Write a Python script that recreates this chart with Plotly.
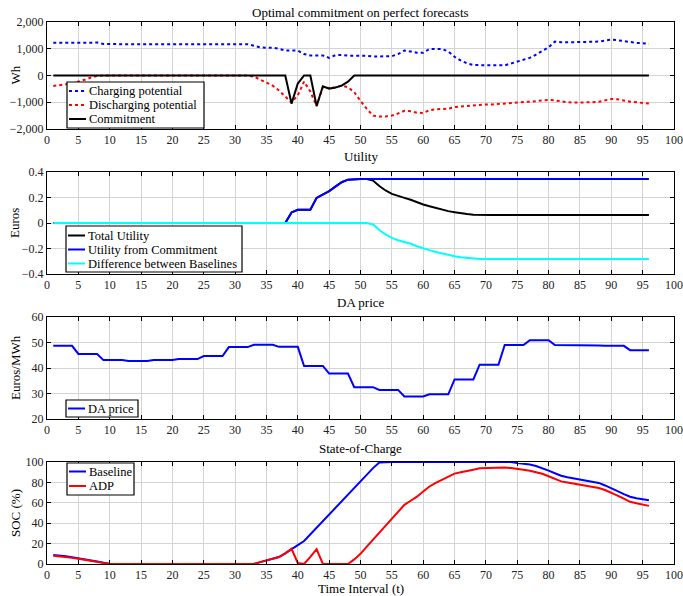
import plotly.graph_objects as go

t = list(range(1, 97))

charging = [1220, 1220, 1210, 1210, 1220, 1220, 1220, 1230, 1180, 1170, 1170, 1170, 1170, 1170, 1170, 1170,
            1170, 1170, 1170, 1170, 1170, 1170, 1170, 1170, 1170, 1170, 1170, 1170, 1170, 1170, 1170, 1170,
            1110, 1050, 1040, 1040, 1000, 935, 935, 935, 800, 750, 750, 750, 660, 760, 770, 740,
            740, 740, 740, 710, 710, 715, 720, 800, 935, 900, 850, 850, 990, 990, 990, 900,
            700, 560, 450, 390, 390, 390, 390, 370, 380, 450, 520, 580, 660, 780, 920, 1060,
            1270, 1240, 1240, 1240, 1240, 1250, 1260, 1270, 1300, 1340, 1320, 1280, 1240, 1220, 1210, 1190]

discharging = [-390, -370, -330, -290, -230, -160, -80, -10, 0, 0, 0, 0, 0, 0, 0, 0,
               0, 0, 0, 0, 0, 0, 0, 0, 0, 0, 0, 0, 0, 0, 0, 0,
               -40, -150, -270, -380, -560, -780, -1010, -740, -230, -600, -1140, -430, -470, -450, -380, -440,
               -620, -950, -1250, -1500, -1530, -1530, -1500, -1420, -1320, -1340, -1390, -1400, -1300, -1260, -1260, -1240,
               -1180, -1160, -1140, -1120, -1090, -1080, -1080, -1070, -1050, -1030, -1010, -1000, -980, -960, -930, -910,
               -930, -970, -1000, -1010, -1010, -1010, -1000, -980, -920, -880, -890, -940, -980, -1000, -1020, -1050]

commitment = [0] * 38 + [-1050, -300, 0, 0, -1140, -400, -490, -450, -380, -230] + [0] * 48

util_commit = [0] * 38 + [0.083, 0.104, 0.104, 0.104, 0.197, 0.223, 0.25, 0.285, 0.32, 0.34] + [0.345] * 48

util_diff = [0] * 51 + [-0.012, -0.055, -0.09, -0.117, -0.135, -0.148, -0.163, -0.182, -0.2, -0.213, -0.227,
                        -0.24, -0.252, -0.26, -0.269, -0.275, -0.281] + [-0.283] * 28

util_total = [0] * 38 + [0.083, 0.104, 0.104, 0.104, 0.197, 0.223, 0.25, 0.285, 0.32, 0.34, 0.345, 0.345, 0.345] + \
             [0.333, 0.29, 0.255, 0.228, 0.21, 0.197, 0.182, 0.163, 0.145, 0.132, 0.118, 0.105, 0.093,
              0.085, 0.076, 0.07, 0.064] + [0.062] * 28

da_price = [48.7, 48.7, 48.7, 48.7, 45.5, 45.5, 45.5, 45.5, 43.1, 43.1, 43.1, 43.1, 42.7, 42.7, 42.7, 42.7,
            43.1, 43.1, 43.1, 43.1, 43.5, 43.5, 43.5, 43.5, 44.7, 44.7, 44.7, 44.7, 48.2, 48.2, 48.2, 48.2,
            49.1, 49.1, 49.1, 49.1, 48.3, 48.3, 48.3, 48.3, 40.8, 40.8, 40.8, 40.8, 37.8, 37.8, 37.8, 37.8,
            32.5, 32.5, 32.5, 32.5, 31.4, 31.4, 31.4, 31.4, 28.8, 28.8, 28.8, 28.8, 29.7, 29.7, 29.7, 29.7,
            35.5, 35.5, 35.5, 35.5, 41.3, 41.3, 41.3, 41.3, 49.0, 49.0, 49.0, 49.0, 50.9, 50.9, 50.9, 50.9,
            49.0, 49.0, 49.0, 49.0, 48.8, 48.8, 48.8, 48.8, 48.7, 48.7, 48.7, 48.7, 47.0, 47.0, 47.0, 47.0]

soc_baseline = [8.8, 8.5, 7.5, 6.7, 5.8, 4.7, 3.6, 2.5, 1.3, 0.2] + [0] * 23 + \
               [1.8, 3.6, 5.2, 6.8, 10.5, 14.9, 18.5, 22.5, 29, 36, 42, 48.5, 55.5, 62, 68, 74.5, 80.5, 87.5, 94, 99.5] + \
               [100] * 21 + \
               [99, 98.5, 97.5, 96, 94, 91.5, 89, 86.5, 85, 84, 83, 82, 81, 79.5, 77, 74.5, 71.5, 68.5, 66, 64.5, 63.5, 62.5]

soc_adp = [8.1, 7.6, 6.8, 6.0, 5.2, 4.2, 3.2, 2.2, 1.1, 0.1] + [0] * 23 + \
          [1.8, 3.6, 5.2, 6.8, 10.5, 14.9, 1, 0, 7, 14.5, 0, 0, 0, 0, 0,
           4.5, 10, 17, 23.7, 30.5, 37.5, 44.8, 51.5, 58, 62, 66, 71, 76, 79.5, 82.8, 86,
           88.6, 90, 91, 92.5, 93.8, 94, 94.2, 94.3, 94.5, 94, 93.5, 92.5, 91.5, 90.3, 88.5, 86,
           83.5, 81, 79.8, 78.8, 78, 77, 75.8, 74.5, 72.5, 70, 67, 64, 61, 59.5, 58, 57]

panel_titles = ["Optimal commitment on perfect forecasts", "Utility", "DA price", "State-of-Charge"]
y_titles = ["Wh", "Euros", "Euros/MWh", "SOC (%)"]
x_title = "Time Interval (t)"

FONT = "Liberation Serif, Times New Roman, serif"
BLUE, RED, BLACK, CYAN = "#0000ff", "#ff0000", "#000000", "#00ffff"

# (panel, name, data, color, dash)
series = [
    (1, "Charging potential", charging, BLUE, "dot"),
    (1, "Discharging potential", discharging, RED, "dot"),
    (1, "Commitment", commitment, BLACK, "solid"),
    (2, "Total Utility", util_total, BLACK, "solid"),
    (2, "Utility from Commitment", util_commit, BLUE, "solid"),
    (2, "Difference between Baselines", util_diff, CYAN, "solid"),
    (3, "DA price", da_price, BLUE, "solid"),
    (4, "Baseline", soc_baseline, BLUE, "solid"),
    (4, "ADP", soc_adp, RED, "solid"),
]

fig = go.Figure()
for p, name, vals, col, dash in series:
    s = "" if p == 1 else str(p)
    fig.add_trace(go.Scatter(x=t, y=vals, mode="lines", name=name, showlegend=False,
                             line=dict(color=col, width=2, dash=dash),
                             xaxis="x" + s, yaxis="y" + s))

H = 542.0
def py(px):
    return (564 - px) / H
def pxx(px):
    return (px - 47) / 627.0

domains = [(py(129), py(22)), (py(274), py(172)), (py(419), py(317)), (py(564), py(462))]
yranges = [[-2000, 2000], [-0.4, 0.4], [20, 60], [0, 100]]
ydticks = [1000, 0.2, 10, 20]
yfmts = [",d", "", "", ""]

axcommon = dict(showline=True, linecolor="black", linewidth=1, mirror="allticks",
                ticks="inside", ticklen=4, tickcolor="black", showgrid=True,
                gridcolor="#d4d4d4", gridwidth=1, zeroline=False, automargin=False,
                tickfont=dict(family=FONT, size=12, color="#222"))

layout = dict(width=683, height=596, margin=dict(l=47, r=9, t=22, b=32),
              paper_bgcolor="white", plot_bgcolor="white", showlegend=False,
              font=dict(family=FONT, size=12, color="black"))
for i in range(4):
    s = "" if i == 0 else str(i + 1)
    layout["xaxis" + s] = dict(axcommon, domain=[0, 1], range=[0, 100], dtick=5, tick0=0,
                               anchor="y" + s)
    layout["yaxis" + s] = dict(axcommon, domain=list(domains[i]), range=yranges[i],
                               dtick=ydticks[i], tickformat=yfmts[i], anchor="x" + s)
fig.update_layout(**layout)

# Manual legends: box (x0, y0, x1, y1) in px, row centres in px
legend_boxes = {1: (67, 82, 204, 128), 2: (66, 226, 242, 272), 3: (66, 400, 138, 417), 4: (67, 463, 134, 495)}
legend_rows = {1: [91, 105, 119], 2: [235.5, 249.5, 263.5], 3: [408.5], 4: [471.5, 486]}

shapes = []
annotations = []
for p in range(1, 5):
    x0, y0, x1, y1 = legend_boxes[p]
    shapes.append(dict(type="rect", xref="paper", yref="paper", x0=pxx(x0), x1=pxx(x1),
                       y0=py(y1), y1=py(y0), line=dict(color="black", width=1.2),
                       fillcolor="white", layer="above"))
    entries = [s for s in series if s[0] == p]
    for (pp, name, vals, col, dash), ry in zip(entries, legend_rows[p]):
        shapes.append(dict(type="line", xref="paper", yref="paper", x0=pxx(x0 + 2), x1=pxx(x0 + 19),
                           y0=py(ry), y1=py(ry), line=dict(color=col, width=2, dash=dash),
                           layer="above"))
        annotations.append(dict(text=name, x=pxx(x0 + 20), y=py(ry), xref="paper", yref="paper",
                                showarrow=False, xanchor="left", yanchor="middle",
                                font=dict(family=FONT, size=12.5, color="black")))

for txt, ypx in zip(panel_titles, [13, 157, 302, 448]):
    annotations.append(dict(text=txt, x=0.5, y=py(ypx), xref="paper", yref="paper",
                            showarrow=False, xanchor="center", yanchor="middle",
                            font=dict(family=FONT, size=13, color="black")))

for txt, ypx in zip(y_titles, [75.5, 223, 368, 513]):
    annotations.append(dict(text=txt, x=pxx(15), y=py(ypx), xref="paper", yref="paper",
                            showarrow=False, xanchor="center", yanchor="middle", textangle=-90,
                            font=dict(family=FONT, size=13, color="black")))

annotations.append(dict(text=x_title, x=0.5, y=py(588.5), xref="paper", yref="paper",
                        showarrow=False, xanchor="center", yanchor="middle",
                        font=dict(family=FONT, size=13, color="black")))

fig.update_layout(shapes=shapes, annotations=annotations)

fig.write_html("out.html", config={"displayModeBar": False},
               post_script="document.body.style.margin='0px';document.body.style.padding='0px';")
